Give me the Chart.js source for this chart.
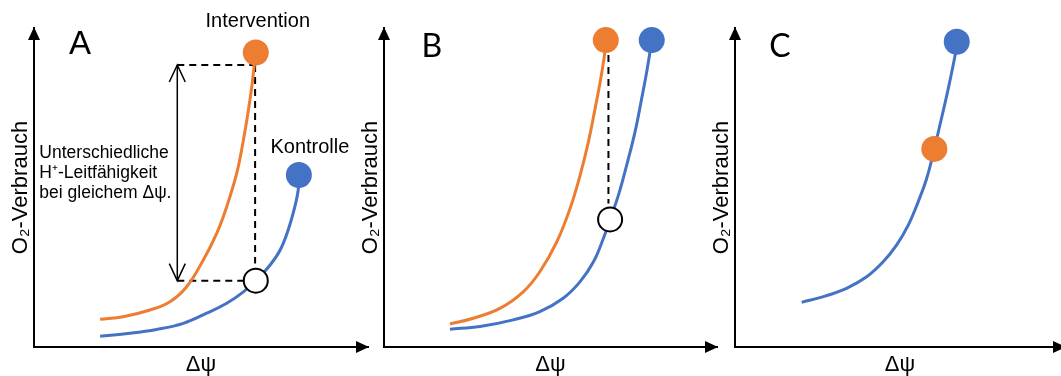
<!DOCTYPE html>
<html>
<head>
<meta charset="utf-8">
<script src="https://cdn.jsdelivr.net/npm/chart.js@4.4.0/dist/chart.umd.min.js"></script>
<style>
html, body { margin: 0; padding: 0; background: #fff; overflow: hidden; width: 1061px; height: 376px; }
canvas { position: absolute; top: 0; }
</style>
</head>
<body>
<canvas id="chartA" width="370" height="376" style="left:0px"></canvas>
<canvas id="chartB" width="369" height="376" style="left:350px"></canvas>
<canvas id="chartC" width="364" height="376" style="left:701px"></canvas>
<script>
// Farben
const ORANGE = '#ED7D31';
const BLUE = '#4472C4';
const FONT = '"Liberation Sans", Arial, sans-serif';

// Panel A (Achsen 0..100, geschätzt aus der Vorlage)
const aIntX = [19.8, 26.7, 34.7, 40.7, 45.7, 50.7, 54.7, 57.7, 60.7, 62.7, 64.2, 65.2, 65.9, 66.4];
const aIntY = [8.7, 9.5, 11.6, 14.2, 18.9, 27.3, 35.6, 44.0, 54.5, 64.9, 74.3, 81.6, 87.9, 92.3];
const aKonX = [19.8, 28.7, 36.7, 44.7, 51.7, 57.7, 62.7, 66.4, 70.7, 73.7, 76.1, 78.1, 79.1, 79.3];
const aKonY = [3.4, 4.3, 5.5, 7.4, 10.6, 13.7, 17.3, 20.8, 25.7, 30.4, 36.7, 44.0, 49.2, 53.9];

// Panel B
const bIntX = [19.8, 26.8, 34.8, 41.8, 46.8, 51.9, 55.9, 58.9, 61.4, 63.4, 65.1, 66.2, 66.6];
const bIntY = [7.2, 9.0, 12.1, 17.3, 23.6, 33.0, 43.5, 53.9, 64.4, 74.8, 84.2, 91.5, 96.2];
const bKonX = [19.8, 28.8, 38.8, 46.8, 53.8, 58.9, 62.9, 65.9, 67.9, 70.4, 72.9, 75.4, 77.4, 78.9, 79.9, 80.4];
const bKonY = [5.6, 6.4, 8.5, 11.1, 15.3, 20.5, 26.7, 34.1, 40.0, 47.6, 57.1, 67.5, 78.0, 86.3, 92.6, 96.2];

// Panel C
const cKonX = [20.2, 26.8, 33.8, 39.9, 44.9, 49.0, 52.5, 55.5, 58.1, 60.4, 62.1, 64.2, 65.7, 66.9, 67.2];
const cKonY = [14.0, 15.8, 18.4, 22.0, 26.7, 32.0, 38.2, 45.5, 52.9, 62.1, 69.6, 79.0, 86.3, 92.6, 95.7];

const zip = (xs, ys) => xs.map((x, i) => ({ x, y: ys[i] }));

const curve = (xs, ys, color) => ({
    data: zip(xs, ys), borderColor: color, borderWidth: 3, pointRadius: 0,
    tension: 0.4, fill: false, order: 2, clip: false
});
const dot = (x, y, color) => ({
    data: [{ x, y }], showLine: false, pointRadius: 13, pointBackgroundColor: color,
    pointBorderWidth: 0, order: 0, clip: false
});
const openDot = (x, y) => ({
    data: [{ x, y }], showLine: false, pointRadius: 12, pointBackgroundColor: '#fff',
    pointBorderColor: '#000', pointBorderWidth: 2, order: 0, clip: false
});
const dashed = (xs, ys) => ({
    data: zip(xs, ys), borderColor: '#000', borderWidth: 2, borderDash: [7, 5],
    pointRadius: 0, tension: 0, order: 3, clip: false
});
const solid = (xs, ys) => ({
    data: zip(xs, ys), borderColor: '#000', borderWidth: 1.5,
    pointRadius: 0, tension: 0, order: 3, clip: false
});

// Pfeile an den Achsen, Beschriftungen, Doppelpfeil
const decor = {
    id: 'decor',
    afterDatasetsDraw(chart, args, opts) {
        const { ctx, chartArea: ca, scales: { x, y } } = chart;
        ctx.save();
        ctx.fillStyle = '#000';
        ctx.beginPath();
        ctx.moveTo(ca.left, ca.top - 1);
        ctx.lineTo(ca.left - 6, ca.top + 12);
        ctx.lineTo(ca.left + 6, ca.top + 12);
        ctx.closePath();
        ctx.fill();
        ctx.beginPath();
        ctx.moveTo(ca.right + 1, ca.bottom);
        ctx.lineTo(ca.right - 12, ca.bottom - 6);
        ctx.lineTo(ca.right - 12, ca.bottom + 6);
        ctx.closePath();
        ctx.fill();

        (opts.arrows || []).forEach(a => {
            const px = x.getPixelForValue(a.x);
            const top = y.getPixelForValue(a.y1);
            const bot = y.getPixelForValue(a.y2);
            ctx.strokeStyle = '#000';
            ctx.lineWidth = 1.5;
            ctx.beginPath();
            ctx.moveTo(px - 8, top + 17); ctx.lineTo(px, top); ctx.lineTo(px + 8, top + 17);
            ctx.moveTo(px - 8, bot - 17); ctx.lineTo(px, bot); ctx.lineTo(px + 8, bot - 17);
            ctx.stroke();
        });

        (opts.labels || []).forEach(l => {
            ctx.font = l.font;
            ctx.fillStyle = l.color || '#000';
            ctx.textAlign = l.align || 'center';
            ctx.textBaseline = 'middle';
            ctx.fillText(l.text, x.getPixelForValue(l.x), y.getPixelForValue(l.y));
        });
        ctx.restore();
    }
};

function makePanel(id, datasets, decorOpts, padRight) {
    new Chart(document.getElementById(id), {
        type: 'line',
        data: { datasets },
        plugins: [decor],
        options: {
            responsive: false,
            animation: false,
            events: [],
            layout: { autoPadding: false, padding: { top: 28, right: padRight, left: 0, bottom: 0 } },
            plugins: { legend: { display: false }, tooltip: { enabled: false }, decor: decorOpts },
            scales: {
                x: {
                    type: 'linear', min: 0, max: 100,
                    grid: { display: false, drawTicks: false },
                    ticks: { display: false },
                    border: { display: true, color: '#000', width: 2 },
                    title: { display: true, text: 'Δψ', color: '#000', padding: 0,
                             font: { family: FONT, size: 22, lineHeight: 1 } },
                    afterFit: s => { s.height = 29; }
                },
                y: {
                    type: 'linear', min: 0, max: 100,
                    grid: { display: false, drawTicks: false },
                    ticks: { display: false },
                    border: { display: true, color: '#000', width: 2 },
                    title: { display: true, text: 'O₂-Verbrauch', color: '#000',
                             padding: { top: 10, bottom: 0 },
                             font: { family: FONT, size: 22, lineHeight: 1 } },
                    afterFit: s => { s.width = 34; }
                }
            }
        }
    });
}

makePanel('chartA', [
    dot(66.4, 92.3, ORANGE),
    dot(79.3, 53.9, BLUE),
    openDot(66.4, 20.8),
    curve(aIntX, aIntY, ORANGE),
    curve(aKonX, aKonY, BLUE),
    dashed([42.9, 66.2], [88.4, 88.4]),
    dashed([66.2, 66.2], [88.4, 26.2]),
    dashed([42.9, 62.7], [20.8, 20.8]),
    solid([42.9, 42.9], [88.4, 20.8])
], {
    arrows: [{ x: 42.9, y1: 88.4, y2: 20.8 }],
    labels: [
        { text: 'A', x: 13.8, y: 94.7, font: '33px ' + FONT },
        { text: 'Intervention', x: 67, y: 101.9, font: '20px ' + FONT },
        { text: 'Kontrolle', x: 82.6, y: 62.4, font: '20px ' + FONT },
        { text: 'Unterschiedliche', x: 1.6, y: 60.8, font: '17.5px ' + FONT, align: 'left' },
        { text: 'H⁺-Leitfähigkeit', x: 1.6, y: 54.5, font: '17.5px ' + FONT, align: 'left' },
        { text: 'bei gleichem Δψ.', x: 1.6, y: 48.3, font: '17.5px ' + FONT, align: 'left' }
    ]
}, 2);

makePanel('chartB', [
    dot(66.6, 96.2, ORANGE),
    dot(80.4, 96.2, BLUE),
    openDot(67.9, 40.0),
    curve(bIntX, bIntY, ORANGE),
    curve(bKonX, bKonY, BLUE),
    dashed([67.4, 67.4], [91.5, 45.0])
], {
    labels: [
        { text: 'B', x: 14.4, y: 94.0, font: '32px Lato, ' + FONT }
    ]
}, 2);

makePanel('chartC', [
    dot(67.2, 95.7, BLUE),
    dot(60.4, 62.1, ORANGE),
    curve(cKonX, cKonY, BLUE)
], {
    labels: [
        { text: 'C', x: 13.6, y: 94.0, font: '32px Lato, ' + FONT }
    ]
}, 0);
</script>
</body>
</html>
